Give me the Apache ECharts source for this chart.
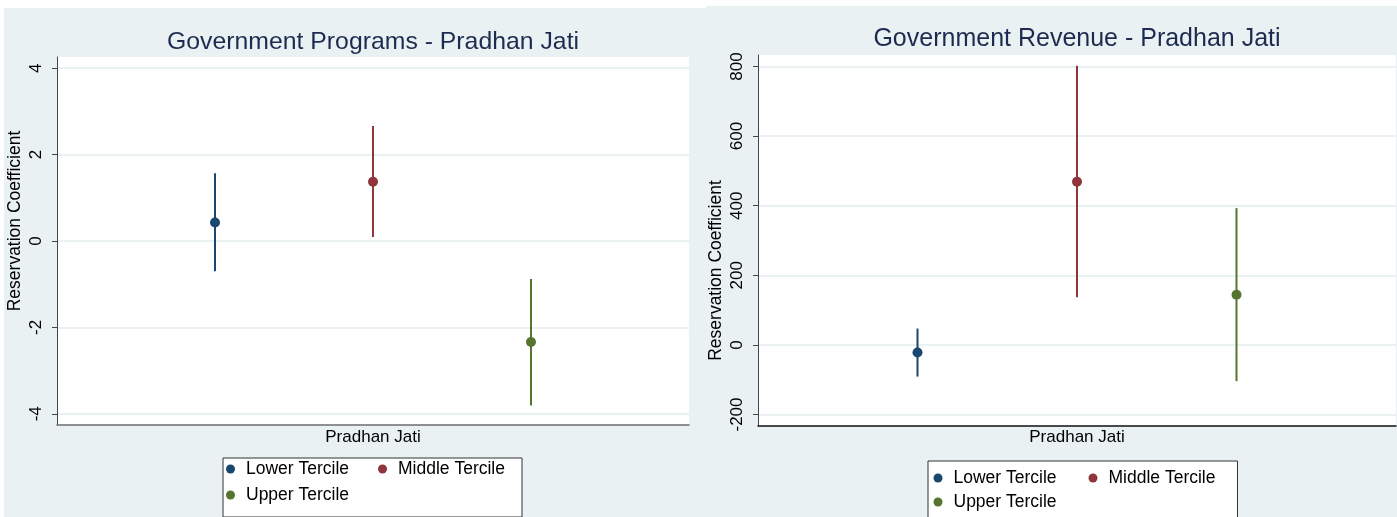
<!DOCTYPE html>
<html><head><meta charset="utf-8">
<script src="https://cdn.jsdelivr.net/npm/echarts@6/dist/echarts.min.js"></script>
<style>html,body{margin:0;padding:0;background:#fff}#c{width:1397px;height:517px}</style>
</head><body><div id="c"></div>
<script>
// ---- data ----
const categories = ['Lower Tercile', 'Middle Tercile', 'Upper Tercile'];
const xPos = [1, 2, 3];
const colors = ['#1a476f', '#90353b', '#55752f'];
const panelTitles = ['Government Programs - Pradhan Jati', 'Government Revenue - Pradhan Jati'];
const xLabel = 'Pradhan Jati';
const yLabel = 'Reservation Coefficient';
const progEst = [0.43, 1.37, -2.34];
const progLo  = [-0.70, 0.09, -3.81];
const progHi  = [1.57, 2.66, -0.88];
const revEst  = [-22, 469, 144];
const revLo   = [-91, 137, -104];
const revHi   = [47, 802, 393];
const progTicks = [-4, -2, 0, 2, 4];
const revTicks  = [-200, 0, 200, 400, 600, 800];

const FONT = '"Liberation Sans", Arial, Helvetica, sans-serif';
const bg = '#e9f1f3';

function ciRender(params, api) {
  const a = api.coord([api.value(0), api.value(1)]);
  const b = api.coord([api.value(0), api.value(2)]);
  return { type: 'line', shape: { x1: a[0], y1: a[1], x2: b[0], y2: b[1] },
           style: { stroke: api.visual('color'), lineWidth: 2 } };
}

const series = [];
[[progEst, progLo, progHi], [revEst, revLo, revHi]].forEach((d, gi) => {
  categories.forEach((name, i) => {
    series.push({ type: 'scatter', name, xAxisIndex: gi, yAxisIndex: gi, z: 4,
      symbol: 'circle', symbolSize: 10, itemStyle: { color: colors[i], opacity: 1 },
      data: [[xPos[i], d[0][i]]], emphasis: { disabled: true } });
    series.push({ type: 'custom', name, xAxisIndex: gi, yAxisIndex: gi, z: 3,
      itemStyle: { color: colors[i] }, renderItem: ciRender,
      data: [[xPos[i], d[1][i], d[2][i]]] });
  });
});

function yAxis(gi, min, max, ticks, padding) {
  return { type: 'value', gridIndex: gi, min, max,
    name: yLabel, nameLocation: 'middle', nameGap: 33,
    nameTextStyle: { fontFamily: FONT, fontSize: 17.5, color: '#000', padding },
    axisLine: { show: true, lineStyle: { color: '#444', width: 1 } },
    axisTick: { show: true, length: 5, customValues: ticks, lineStyle: { color: '#444' } },
    axisLabel: { customValues: ticks, rotate: 90, margin: 12, fontFamily: FONT, fontSize: 17, color: '#000' },
    splitLine: { show: true, lineStyle: { color: '#e3ecee', width: 1.5 } } };
}
function xAxis(gi, lineColor, gap) {
  return { type: 'value', gridIndex: gi, min: 0, max: 4,
    name: xLabel, nameLocation: 'middle', nameGap: gap,
    nameTextStyle: { fontFamily: FONT, fontSize: 17, color: '#000' },
    axisLine: { show: true, onZero: false, lineStyle: { color: lineColor, width: 1.5 } },
    axisTick: { show: false }, axisLabel: { show: false }, splitLine: { show: false } };
}
function legend(left, top, padding, gap, tw) {
  return { left, top, padding, itemGap: gap, width: 310, orient: 'horizontal',
    itemWidth: 9, itemHeight: 9, icon: 'circle',
    backgroundColor: '#fff', borderColor: '#333', borderWidth: 1,
    textStyle: { fontFamily: FONT, fontSize: 17.5, color: '#000', width: tw, lineHeight: 18, padding: [0, 0, 0, 6] },
    data: categories.map((n, i) => ({ name: n, itemStyle: { color: colors[i] } })) };
}

const chart = echarts.init(document.getElementById('c'), null, { renderer: 'canvas' });
chart.setOption({
  animation: false,
  backgroundColor: '#fff',
  graphic: [
    { type: 'rect', z: -10, shape: { x: 4, y: 8, width: 702, height: 509 }, style: { fill: bg } },
    { type: 'rect', z: -10, shape: { x: 706, y: 6, width: 691, height: 511 }, style: { fill: bg } }
  ],
  title: [
    { text: panelTitles[0], left: 373, top: 30, textAlign: 'center', padding: 0,
      textStyle: { fontFamily: FONT, fontSize: 24.8, fontWeight: 'normal', color: '#1c2b4f' } },
    { text: panelTitles[1], left: 1077, top: 27, textAlign: 'center', padding: 0,
      textStyle: { fontFamily: FONT, fontSize: 25, fontWeight: 'normal', color: '#1c2b4f' } }
  ],
  grid: [
    { left: 57, top: 57, width: 632, height: 368, show: true, backgroundColor: '#fff', borderWidth: 0 },
    { left: 758, top: 55, width: 638, height: 371, show: true, backgroundColor: '#fff', borderWidth: 0 }
  ],
  xAxis: [xAxis(0, '#6d6d6d', 4), xAxis(1, '#111', 3)],
  yAxis: [yAxis(0, -4.26, 4.26, progTicks, [0, 0, 0, 40]),
          yAxis(1, -233, 833, revTicks, [0, 60, 0, 0])],
  legend: [legend(223, 458, [2, 0, 13, 3], 8, 124), legend(928, 461, [8, 0, 20, 5.5], 6, 129)],
  series
});
</script></body></html>
